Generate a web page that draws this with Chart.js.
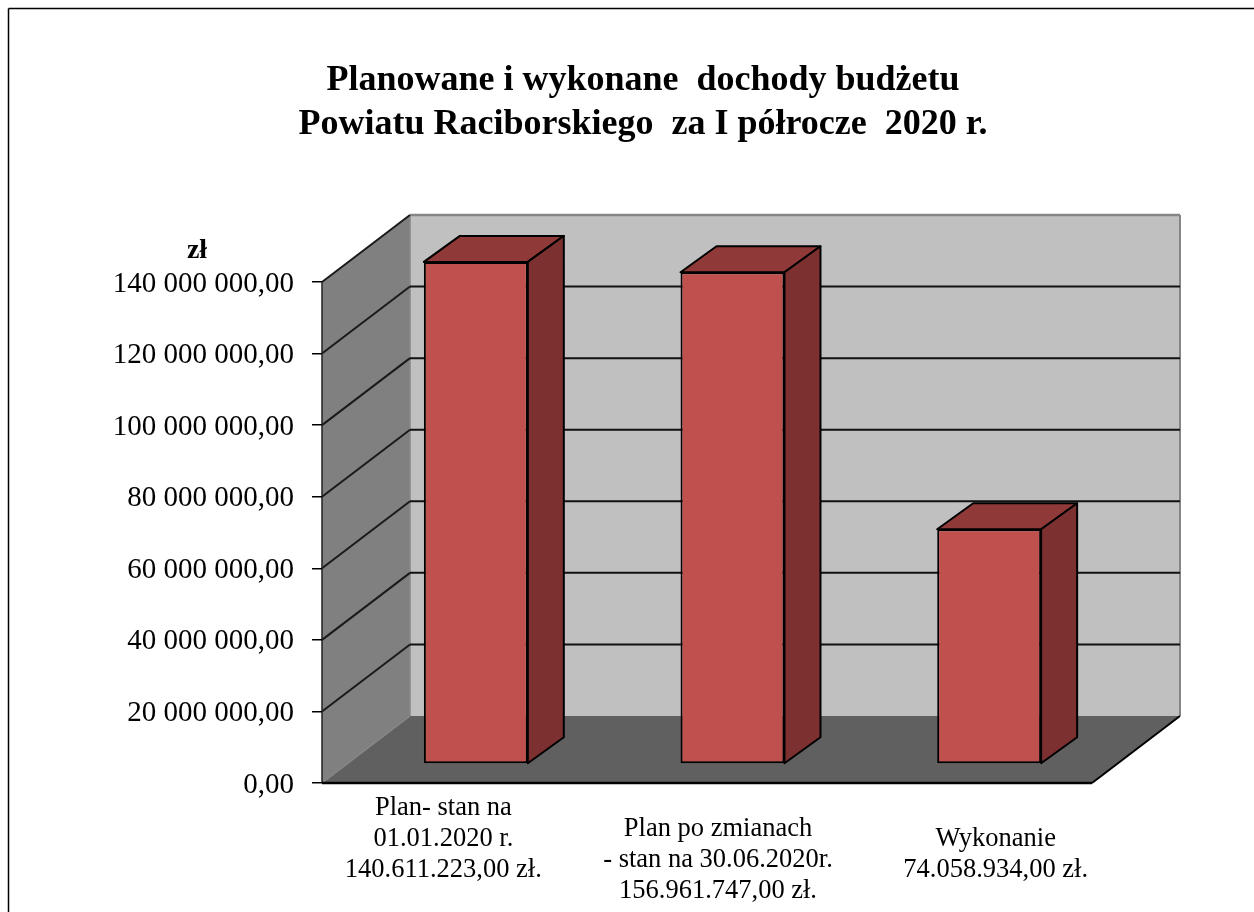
<!DOCTYPE html>
<html>
<head>
<meta charset="utf-8">
<title>Dochody budżetu</title>
<script src="https://cdn.jsdelivr.net/npm/chart.js@4"></script>
<style>
    html, body { margin: 0; padding: 0; background: #fff; overflow: hidden; }
    #wrap { position: relative; width: 1254px; height: 912px; }
    canvas { display: block; }
</style>
</head>
<body>
<div id="wrap"><canvas id="budgetChart" width="1254" height="912"></canvas></div>
<script>
const titleLines = ['Planowane i wykonane  dochody budżetu', 'Powiatu Raciborskiego  za I półrocze  2020 r.'];
const unitLabel = 'zł';
const categories = [
    ['Plan- stan na', '01.01.2020 r.', '140.611.223,00 zł.'],
    ['Plan po zmianach', '- stan na 30.06.2020r.', '156.961.747,00 zł.'],
    ['Wykonanie', '74.058.934,00 zł.']
];
// bar heights as drawn in the picture, not the amounts written in the labels
const barValues = [140300000, 137400000, 65600000];
const yTickLabels = ['0,00', '20 000 000,00', '40 000 000,00', '60 000 000,00', '80 000 000,00', '100 000 000,00', '120 000 000,00', '140 000 000,00'];

const yMax = 140000000;
const yStep = 20000000;
const serif = '"Liberation Serif", "Times New Roman", serif';

// 3d look
const depth = { x: 88, y: -67 };
const barShift = { x: 25.5, y: -19 };
const barDepth = { x: 36, y: -26 };
const labelShift = [{ x: -7, y: 25.5 }, { x: 11, y: 46 }, { x: 32, y: 56 }];
const colors = { back: '#c0c0c0', left: '#808080', floor: '#606060', edge: '#868686', bar: '#c0504d', barTop: '#8f3a38', barSide: '#7c3130' };

function poly(ctx, pts, fill, stroke, lw) {
    ctx.beginPath();
    pts.forEach((p, i) => i ? ctx.lineTo(p[0], p[1]) : ctx.moveTo(p[0], p[1]));
    ctx.closePath();
    if (fill) { ctx.fillStyle = fill; ctx.fill(); }
    if (stroke) { ctx.strokeStyle = stroke; ctx.lineWidth = lw || 1.5; ctx.stroke(); }
}

function line(ctx, x1, y1, x2, y2, color, lw) {
    ctx.beginPath();
    ctx.moveTo(x1, y1);
    ctx.lineTo(x2, y2);
    ctx.strokeStyle = color;
    ctx.lineWidth = lw;
    ctx.stroke();
}

const box3d = {
    id: 'box3d',
    beforeDraw(chart) {
        const { ctx, chartArea: a, scales } = chart;
        const dx = depth.x, dy = depth.y;
        ctx.save();
        poly(ctx, [[a.left + dx, a.top + dy], [a.right + dx, a.top + dy], [a.right + dx, a.bottom + dy], [a.left + dx, a.bottom + dy]], colors.back);
        poly(ctx, [[a.left, a.top], [a.left + dx, a.top + dy], [a.left + dx, a.bottom + dy], [a.left, a.bottom]], colors.left);
        poly(ctx, [[a.left, a.bottom], [a.left + dx, a.bottom + dy], [a.right + dx, a.bottom + dy], [a.right, a.bottom]], colors.floor);

        // light edges of the walls
        line(ctx, a.left + dx, a.top + dy, a.right + dx, a.top + dy, colors.edge, 2.5);
        line(ctx, a.right + dx, a.top + dy, a.right + dx, a.bottom + dy, colors.edge, 2);
        line(ctx, a.left + dx, a.top + dy, a.left + dx, a.bottom + dy, colors.edge, 1.5);
        line(ctx, a.left, a.bottom, a.left + dx, a.bottom + dy, colors.edge, 1.5);

        // grid lines run along the back wall and down the side wall
        scales.y.ticks.forEach(t => {
            const y = scales.y.getPixelForValue(t.value);
            if (t.value > 0) line(ctx, a.left, y, a.left + dx, y + dy, '#1a1a1a', 2);
            if (t.value > 0 && t.value < yMax) line(ctx, a.left + dx, y + dy, a.right + dx, y + dy, '#111', 2);
        });
        line(ctx, a.left, a.top, a.left, a.bottom, '#222', 1.5);
        line(ctx, a.left, a.bottom, a.right, a.bottom, '#000', 2.5);
        line(ctx, a.right, a.bottom, a.right + dx, a.bottom + dy, '#000', 2);
        ctx.restore();
    },
    beforeDatasetDraw(chart) {
        chart.ctx.save();
        chart.ctx.translate(barShift.x, barShift.y);
    },
    afterDatasetDraw(chart, args) {
        const ctx = chart.ctx;
        args.meta.data.forEach(bar => {
            const l = bar.x - bar.width / 2, r = bar.x + bar.width / 2;
            const top = bar.y, bot = bar.base;
            const bx = barDepth.x, by = barDepth.y;
            ctx.lineJoin = 'round';
            poly(ctx, [[l, top], [l + bx, top + by], [r + bx, top + by], [r, top]], colors.barTop, '#000', 2);
            poly(ctx, [[r, top], [r + bx, top + by], [r + bx, bot + by], [r, bot]], colors.barSide, '#000', 2);
        });
        ctx.restore();
    },
    afterDraw(chart) {
        const { ctx, scales } = chart;
        ctx.save();
        // frame of the slide, only top and left show
        line(ctx, 8.5, 912, 8.5, 8.5, '#000', 1.5);
        line(ctx, 8.5, 8.5, 1254, 8.5, '#000', 1.5);

        ctx.fillStyle = '#000';
        ctx.textAlign = 'center';
        ctx.textBaseline = 'middle';
        ctx.font = 'bold 28px ' + serif;
        ctx.fillText(unitLabel, 197, 251);

        ctx.font = '26.5px ' + serif;
        categories.forEach((lines, i) => {
            const x = scales.x.getPixelForTick(i) + labelShift[i].x;
            const y0 = scales.x.top + labelShift[i].y;
            lines.forEach((txt, k) => ctx.fillText(txt, x, y0 + k * 31));
        });
        ctx.restore();
    }
};

new Chart(document.getElementById('budgetChart'), {
    type: 'bar',
    data: {
        labels: categories.map(c => c.join(' ')),
        datasets: [{
            data: barValues,
            backgroundColor: colors.bar,
            borderColor: '#000',
            borderWidth: 2,
            borderSkipped: false,
            categoryPercentage: 1,
            barPercentage: 0.405,
            clip: false
        }]
    },
    options: {
        responsive: false,
        animation: false,
        // right axis is only a spacer, it keeps the title centred like the original
        layout: { padding: { left: 100, right: 68, top: 0, bottom: 0 } },
        plugins: {
            legend: { display: false },
            tooltip: { enabled: false },
            title: {
                display: true,
                text: titleLines,
                color: '#000',
                font: { family: serif, size: 36, weight: 'bold', lineHeight: 44 / 36 },
                padding: { top: 59, bottom: 135 }
            }
        },
        scales: {
            x: {
                grid: { display: false },
                border: { display: false },
                ticks: { display: false },
                afterFit(scale) { scale.height = 129; }
            },
            y: {
                min: 0,
                max: yMax,
                ticks: {
                    stepSize: yStep,
                    color: '#000',
                    padding: 18,
                    labelOffset: 2,
                    font: { family: serif, size: 29 },
                    callback: (v) => yTickLabels[v / yStep]
                },
                grid: { drawOnChartArea: false, color: '#000', tickLength: 10, lineWidth: 1.5 },
                border: { display: false },
                afterFit(scale) { scale.width = 222; }
            },
            spacer: {
                axis: 'y',
                position: 'right',
                grid: { display: false },
                border: { display: false },
                ticks: { display: false },
                afterFit(scale) { scale.width = 94; }
            }
        }
    },
    plugins: [box3d]
});
</script>
</body>
</html>
